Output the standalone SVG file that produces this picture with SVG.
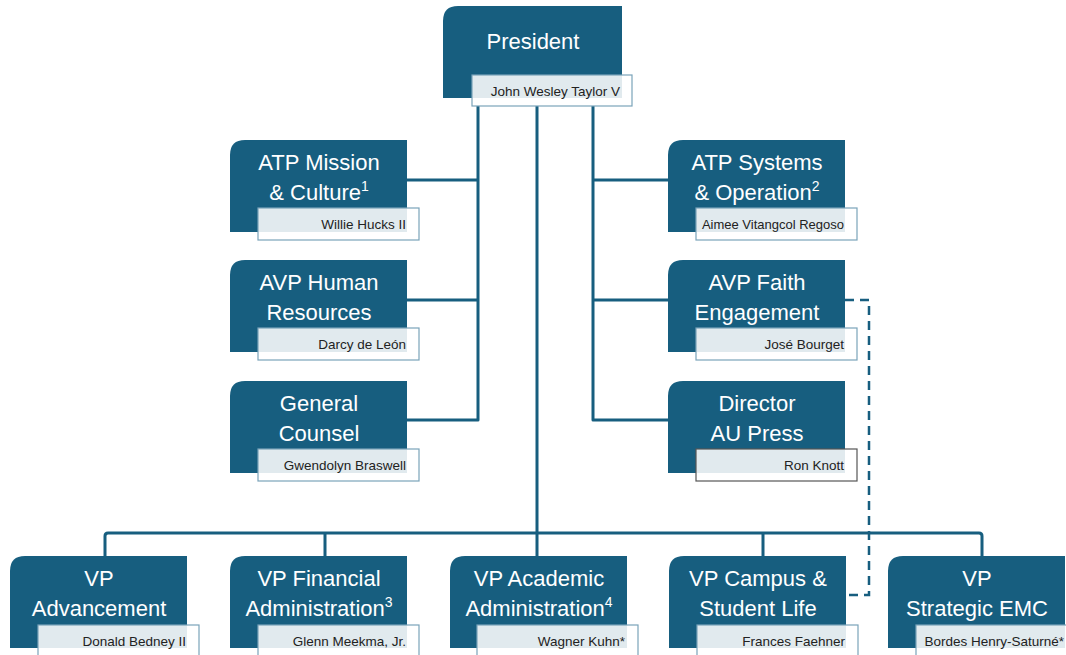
<svg xmlns="http://www.w3.org/2000/svg" width="1066" height="655" viewBox="0 0 1066 655">
<defs>
<style>
.box{fill:#175e7f}
.nb{fill:#ffffff;fill-opacity:0.87;stroke:#7aa3b9;stroke-width:1.2}
.nbd{fill:#ffffff;fill-opacity:0.87;stroke:#555555;stroke-width:1.2}
.t{font-family:"Liberation Sans",Arial,sans-serif;font-size:22px;fill:#ffffff;text-anchor:middle}
.n{font-family:"Liberation Sans",Arial,sans-serif;font-size:13.5px;fill:#222222;text-anchor:end}
.sup{font-size:14px}
.ln{fill:none;stroke:#175e7f;stroke-width:3;stroke-linejoin:round}
.dash{fill:none;stroke:#175e7f;stroke-width:2.5;stroke-dasharray:9 6}
</style>
</defs>
<rect width="1066" height="655" fill="#ffffff"/>
<g id="connectors">
<path class="ln" d="M537 106 V556"/>
<path class="ln" d="M478 106 V420 H407 M407 300 H478 M407 180 H478"/>
<path class="ln" d="M593 106 V420 H668 M593 300 H668 M593 180 H668"/>
<path class="ln" d="M105 556 V536 Q105 533 108 533 H979 Q982 533 982 536 V556 M325 533 V556 M763 533 V556"/>
<path class="dash" d="M845 300 H869 V595 H845"/>
</g>
<g id="president">
<path class="box" d="M458 6 H622 V98 H443 V21 Q443 6 458 6 Z"/>
<text class="t" x="533" y="49">President</text>
<rect class="nb" x="472" y="75" width="160" height="31"/>
<text class="n" x="620" y="96">John Wesley Taylor V</text>
</g>
<g id="atp-mission">
<path class="box" d="M245 140 H407 V232 H230 V155 Q230 140 245 140 Z"/>
<text class="t" x="319" y="170">ATP Mission</text>
<text class="t" x="319" y="200">&amp; Culture<tspan class="sup" dy="-9">1</tspan></text>
<rect class="nb" x="258" y="208" width="161" height="32"/>
<text class="n" x="406" y="229">Willie Hucks II</text>
</g>
<g id="avp-hr">
<path class="box" d="M245 260 H407 V352 H230 V275 Q230 260 245 260 Z"/>
<text class="t" x="319" y="290">AVP Human</text>
<text class="t" x="319" y="320">Resources</text>
<rect class="nb" x="258" y="328" width="161" height="32"/>
<text class="n" x="406" y="349">Darcy de León</text>
</g>
<g id="general-counsel">
<path class="box" d="M245 381 H407 V473 H230 V396 Q230 381 245 381 Z"/>
<text class="t" x="319" y="411">General</text>
<text class="t" x="319" y="441">Counsel</text>
<rect class="nb" x="258" y="449" width="161" height="32"/>
<text class="n" x="406" y="470">Gwendolyn Braswell</text>
</g>
<g id="atp-systems">
<path class="box" d="M683 140 H845 V232 H668 V155 Q668 140 683 140 Z"/>
<text class="t" x="757" y="170">ATP Systems</text>
<text class="t" x="757" y="200">&amp; Operation<tspan class="sup" dy="-9">2</tspan></text>
<rect class="nb" x="696" y="208" width="161" height="32"/>
<text class="n" x="844" y="229" style="font-size:13px">Aimee Vitangcol Regoso</text>
</g>
<g id="avp-faith">
<path class="box" d="M683 260 H845 V352 H668 V275 Q668 260 683 260 Z"/>
<text class="t" x="757" y="290">AVP Faith</text>
<text class="t" x="757" y="320">Engagement</text>
<rect class="nb" x="696" y="328" width="161" height="32"/>
<text class="n" x="844" y="349">José Bourget</text>
</g>
<g id="director-press">
<path class="box" d="M683 381 H845 V473 H668 V396 Q668 381 683 381 Z"/>
<text class="t" x="757" y="411">Director</text>
<text class="t" x="757" y="441">AU Press</text>
<rect class="nbd" x="696" y="449" width="161" height="32"/>
<text class="n" x="844" y="470">Ron Knott</text>
</g>
<g id="vp-advancement">
<path class="box" d="M25 556 H187 V648 H10 V571 Q10 556 25 556 Z"/>
<text class="t" x="99" y="586">VP</text>
<text class="t" x="99" y="616">Advancement</text>
<rect class="nb" x="38" y="625" width="161" height="32"/>
<text class="n" x="186" y="646">Donald Bedney II</text>
</g>
<g id="vp-financial">
<path class="box" d="M245 556 H407 V648 H230 V571 Q230 556 245 556 Z"/>
<text class="t" x="319" y="586">VP Financial</text>
<text class="t" x="319" y="616">Administration<tspan class="sup" dy="-9">3</tspan></text>
<rect class="nb" x="258" y="625" width="161" height="32"/>
<text class="n" x="406" y="646">Glenn Meekma, Jr.</text>
</g>
<g id="vp-academic">
<path class="box" d="M465 556 H627 V648 H450 V571 Q450 556 465 556 Z"/>
<text class="t" x="539" y="586">VP Academic</text>
<text class="t" x="539" y="616">Administration<tspan class="sup" dy="-9">4</tspan></text>
<rect class="nb" x="477" y="625" width="161" height="32"/>
<text class="n" x="625" y="646">Wagner Kuhn*</text>
</g>
<g id="vp-campus">
<path class="box" d="M684 556 H846 V648 H669 V571 Q669 556 684 556 Z"/>
<text class="t" x="758" y="586">VP Campus &amp;</text>
<text class="t" x="758" y="616">Student Life</text>
<rect class="nb" x="697" y="625" width="161" height="32"/>
<text class="n" x="845" y="646">Frances Faehner</text>
</g>
<g id="vp-strategic">
<path class="box" d="M903 556 H1065 V648 H888 V571 Q888 556 903 556 Z"/>
<text class="t" x="977" y="586">VP</text>
<text class="t" x="977" y="616">Strategic EMC</text>
<rect class="nb" x="916" y="625" width="161" height="32"/>
<text class="n" x="1064" y="646">Bordes Henry-Saturné*</text>
</g>
</svg>
